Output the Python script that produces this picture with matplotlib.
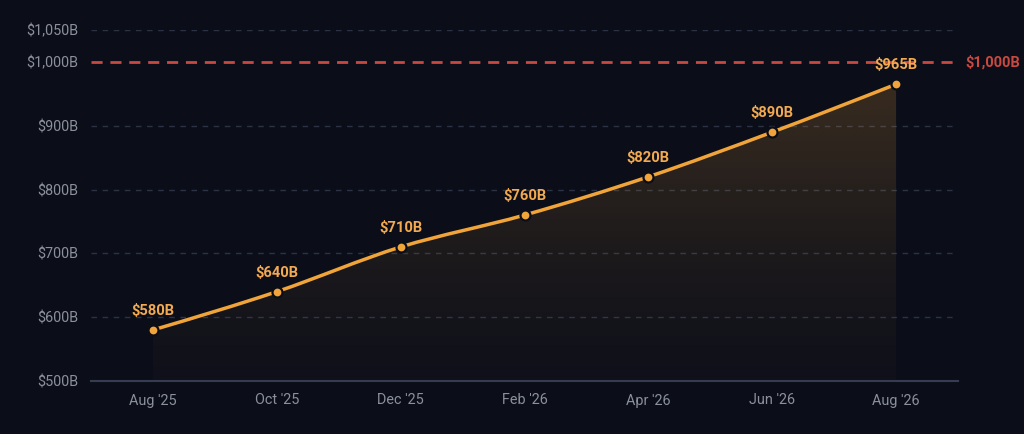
import numpy as np
import matplotlib
matplotlib.use("Agg")
import matplotlib.pyplot as plt
from matplotlib.path import Path
from matplotlib.patches import PathPatch

months = ["Aug '25", "Oct '25", "Dec '25", "Feb '26", "Apr '26", "Jun '26", "Aug '26"]
values = [580, 640, 710, 760, 820, 890, 965]
y_ticks = [500, 600, 700, 800, 900, 1000, 1050]
target = 1000

BG = "#0b0e19"
LINE = "#f0a43a"
LABEL = "#f2a950"
RED = "#c9483f"
GRID = "#2a3244"
TICK = "#8b909c"

plt.rcParams['font.family'] = ['Roboto', 'DejaVu Sans']

fig = plt.figure(figsize=(10.24, 4.34), dpi=100, facecolor=BG)
ax = fig.add_axes([91/1024, 1-381/434, (958-91)/1024, (381-30)/434])
ax.set_facecolor(BG)

x = np.arange(len(values), dtype=float)
y = np.array(values, dtype=float)

# monotone cubic (d3 curveMonotoneX) tangents
n = len(x)
h = np.diff(x)
s = np.diff(y) / h
t = np.zeros(n)
for i in range(1, n-1):
    if s[i-1]*s[i] <= 0:
        t[i] = 0
    else:
        p = (s[i-1]*h[i] + s[i]*h[i-1]) / (h[i-1] + h[i])
        t[i] = (np.sign(s[i-1]) + np.sign(s[i])) * min(abs(s[i-1]), abs(s[i]), 0.5*abs(p))
t[0] = (3*s[0] - t[1]) / 2
t[-1] = (3*s[-1] - t[-2]) / 2

verts = [(x[0], y[0])]
codes = [Path.MOVETO]
for i in range(n-1):
    dx = (x[i+1]-x[i]) / 3
    verts += [(x[i]+dx, y[i]+dx*t[i]), (x[i+1]-dx, y[i+1]-dx*t[i+1]), (x[i+1], y[i+1])]
    codes += [Path.CURVE4]*3
line_path = Path(verts, codes)

fverts = verts + [(x[-1], 500), (x[0], 500), (x[0], y[0])]
fcodes = codes + [Path.LINETO, Path.LINETO, Path.CLOSEPOLY]
fill_path = Path(fverts, fcodes)

# gradient fill
grad = np.linspace(0, 1, 256)
rgba = np.zeros((256, 1, 4))
c = matplotlib.colors.to_rgb(LINE)
rgba[:, 0, 0], rgba[:, 0, 1], rgba[:, 0, 2] = c
rgba[:, 0, 3] = 0.02 + (grad ** 1.3) * 0.18
im = ax.imshow(rgba, extent=[x[0], x[-1], 500, max(values)], origin='lower',
               aspect='auto', zorder=1, interpolation='bilinear')
clip = PathPatch(fill_path, transform=ax.transData, facecolor='none', edgecolor='none')
ax.add_patch(clip)
im.set_clip_path(clip)
ax.set_xlim(-0.5, n-0.5)
ax.set_ylim(500, 1050)

# grid
for yt in y_ticks:
    if yt in (500, target):
        continue
    ax.axhline(yt, color=GRID, lw=1, ls=(0, (4, 4)), zorder=0)
ax.axhline(500, color="#363d52", lw=1.5, zorder=2, clip_on=False)

# target line
ax.axhline(target, color=RED, lw=2, ls=(0, (4, 2.8)), zorder=2)
ax.annotate("$1,000B", xy=(1, target), xycoords=('axes fraction', 'data'),
            xytext=(7, 0), textcoords='offset pixels', color=RED, fontsize=10.5,
            fontweight='bold', va='center', ha='left', annotation_clip=False)

ax.add_patch(PathPatch(line_path, transform=ax.transData, facecolor='none',
                       edgecolor=LINE, lw=2.5, zorder=3, capstyle='round'))
ax.scatter(x, y, s=52, color=LINE, edgecolor=BG, linewidth=1.6, zorder=4)

for xi, yi in zip(x, y):
    ax.annotate(f"${int(yi)}B", xy=(xi, yi), xytext=(0, 12), textcoords='offset pixels',
                ha='center', va='bottom', color=LABEL, fontsize=10.6, fontweight='bold', zorder=5)

ax.set_xticks(x)
ax.set_xticklabels(months)
ax.set_yticks(y_ticks)
ax.set_yticklabels([f"${v:,}B" for v in y_ticks])
ax.tick_params(axis='both', length=0, colors=TICK, labelsize=10.4)
ax.tick_params(axis='x', pad=9)
ax.tick_params(axis='y', pad=9)
for sp in ax.spines.values():
    sp.set_visible(False)

fig.savefig("out.png", dpi=100, facecolor=BG)
